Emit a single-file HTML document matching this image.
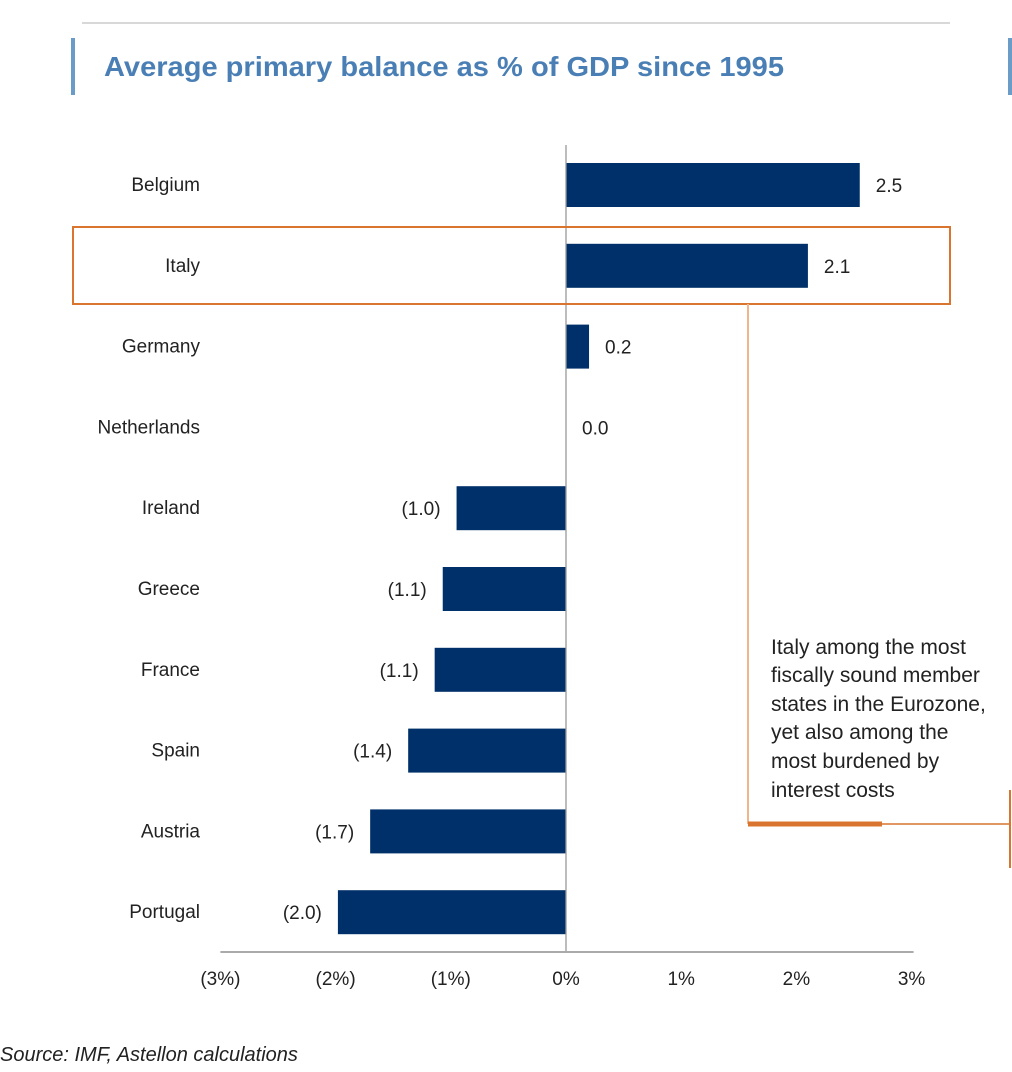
<!DOCTYPE html>
<html><head><meta charset="utf-8"><style>
body{margin:0;background:#fff;}
svg{display:block;font-family:"Liberation Sans",sans-serif;}
</style></head><body>
<svg id="chart" width="1012" height="1072" viewBox="0 0 1012 1072">
<line x1="82" y1="23" x2="950" y2="23" stroke="#d8d8d8" stroke-width="2"/>
<rect x="71" y="38" width="4" height="57" fill="#6b9cc8"/>
<rect x="1008" y="38" width="4" height="57" fill="#6b9cc8"/>
<text x="104" y="76" font-size="28" font-weight="bold" fill="#4a7fb5" textLength="680" lengthAdjust="spacingAndGlyphs">Average primary balance as % of GDP since 1995</text>
<g id="plot"></g>
<rect x="73" y="227" width="877" height="77" fill="none" stroke="#d9752f" stroke-width="2"/>
<line x1="748" y1="304" x2="748" y2="824" stroke="#f0b58a" stroke-width="2"/>
<line x1="748" y1="824" x2="882" y2="824" stroke="#d9752f" stroke-width="5"/>
<line x1="882" y1="824" x2="1010" y2="824" stroke="#d9752f" stroke-width="1.5"/>
<line x1="1010" y1="790" x2="1010" y2="868" stroke="#d9752f" stroke-width="2"/>
<g font-size="21" fill="#222">
<text x="771" y="654">Italy among the most</text>
<text x="771" y="682">fiscally sound member</text>
<text x="771" y="711">states in the Eurozone,</text>
<text x="771" y="739">yet also among the</text>
<text x="771" y="768">most burdened by</text>
<text x="771" y="797">interest costs</text>
</g>
<text x="0" y="1061" font-size="20" font-style="italic" fill="#222">Source: IMF, Astellon calculations</text>
</svg>
<script>
const categories=["Belgium","Italy","Germany","Netherlands","Ireland","Greece","France","Spain","Austria","Portugal"];
const values=[2.55,2.1,0.2,0.0,-0.95,-1.07,-1.14,-1.37,-1.7,-1.98];
const valueLabels=["2.5","2.1","0.2","0.0","(1.0)","(1.1)","(1.1)","(1.4)","(1.7)","(2.0)"];
const tickValues=[-3,-2,-1,0,1,2,3];
const tickLabels=["(3%)","(2%)","(1%)","0%","1%","2%","3%"];
const NS="http://www.w3.org/2000/svg";
const g=document.getElementById('plot');
const x=v=>566+v*115.2;
const y=i=>185+i*80.8;
function mk(t,a){const e=document.createElementNS(NS,t);for(const k in a)e.setAttribute(k,a[k]);g.appendChild(e);return e;}
categories.forEach((c,i)=>{
  const v=values[i];
  const x0=Math.min(x(0),x(v)),w=Math.abs(x(v)-x(0));
  const r=mk('rect',{x:x0,y:y(i)-22,width:w,height:44,fill:'#003069'});
  
  
  const t=mk('text',{x:200,y:y(i)+6,'font-size':19,'text-anchor':'end',fill:'#222'});
  t.textContent=c;
  
  
  const lx=v>=0?x(v)+16:x(v)-16;
  const vl=mk('text',{x:lx,y:y(i)+7,'font-size':19,'text-anchor':v>=0?'start':'end',fill:'#222'});
  vl.textContent=valueLabels[i];
  
  
});
const zl=mk('line',{x1:x(0),y1:145,x2:x(0),y2:952,stroke:'#999','stroke-width':1.3});


const ax=mk('line',{x1:x(-3),y1:952,x2:x(3)+2,y2:952,stroke:'#aaa','stroke-width':2});


tickValues.forEach((v,i)=>{
  const t=mk('text',{x:x(v),y:985,'font-size':19,'text-anchor':'middle',fill:'#222'});
  t.textContent=tickLabels[i];
  
  
});
</script>
</body></html>
